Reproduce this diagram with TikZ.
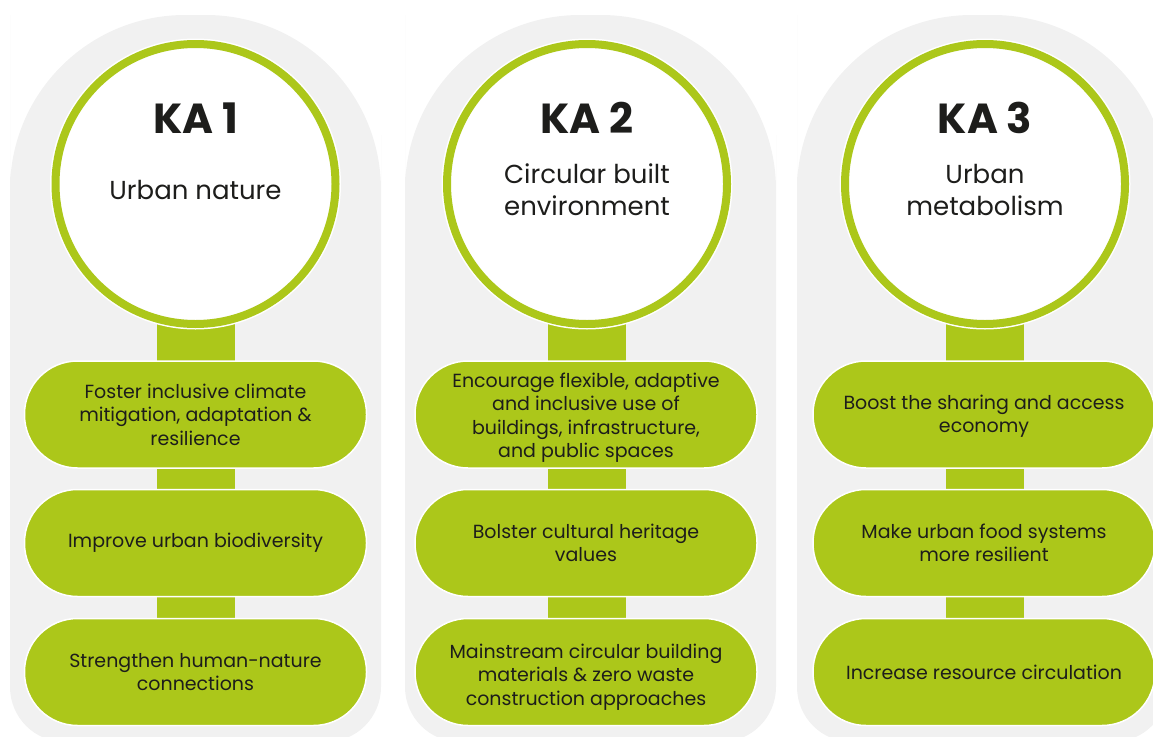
\documentclass[tikz,border=0pt]{standalone}
\usepackage{fontspec}
\setmainfont{Poppins}
\usetikzlibrary{backgrounds}
\definecolor{kagreen}{RGB}{172,199,26}
\definecolor{kagrey}{RGB}{241,241,241}
\definecolor{katext}{RGB}{29,29,27}
\begin{document}
\begin{tikzpicture}[x=1pt,y=-1pt,
  kacircle/.style={circle, draw=white, double=kagreen, double distance=8pt, line width=1.5pt, fill=white, minimum size=280pt, inner sep=0pt, outer sep=0pt},
  katitle/.style={font=\fontsize{42}{48}\selectfont\bfseries, text=katext, anchor=base, inner sep=0pt},
  kasub/.style={font=\fontsize{26}{32}\selectfont, text=katext, align=center, inner sep=0pt},
  goal/.style={rectangle, rounded corners=53pt, draw=white, line width=1.5pt, fill=kagreen, minimum width=342pt, minimum height=107pt, inner sep=0pt, align=center, font=\fontsize{19}{23.5}\selectfont, text=katext},
  link/.style={draw=kagreen, line width=78pt},
  panel/.style={fill=kagrey}]
\useasboundingbox (0,0) rectangle (1153,736);

% ---- column 1
\node[kacircle] (c1) at (195.5,184) {};
\node[katitle] (t1) at (195.5,133) {KA 1};
\node[kasub] (s1) at (195.5,189.5) {Urban nature};
\node[goal] (g11) at (195.5,414.5) {Foster inclusive climate\\mitigation, adaptation \&\\resilience};
\node[goal] (g12) at (195.5,543) {Improve urban biodiversity};
\node[goal] (g13) at (195.5,672) {Strengthen human-nature\\connections};

% ---- column 2
\node[kacircle] (c2) at (587,184) {};
\node[katitle] (t2) at (587,133) {KA 2};
\node[kasub] (s2) at (587,189.5) {Circular built\\environment};
\node[goal] (g21) at (586,414.5) {\rule{0pt}{20.5pt}Encourage flexible, adaptive\\and inclusive use of\\buildings, infrastructure,\\and public spaces};
\node[goal] (g22) at (586,543) {Bolster cultural heritage\\values};
\node[goal] (g23) at (586,672) {\rule{0pt}{24.5pt}Mainstream circular building\\materials \& zero waste\\construction approaches};

% ---- column 3
\node[kacircle] (c3) at (985,184) {};
\node[katitle] (t3) at (985,133) {KA 3};
\node[kasub] (s3) at (985,189.5) {Urban\\metabolism};
\node[goal] (g31) at (984,414.5) {\rule{0pt}{18pt}Boost the sharing and access\\economy};
\node[goal] (g32) at (984,543) {Make urban food systems\\more resilient};
\node[goal] (g33) at (984,672) {Increase resource circulation};

\begin{scope}[on background layer]
  \foreach \L in {10,405,797}{
    \path[panel] (\L+185.5,742) [rounded corners=55pt] -- (\L+371,742) -- (\L+371,190)
      [rounded corners=175pt] -- (\L+371,15) -- (\L,15) -- (\L,190)
      [rounded corners=55pt] -- (\L,742) -- cycle;
  }
  \draw[link] (c1.center) -- (g11.center);
  \draw[link] (g11.center) -- (g12.center);
  \draw[link] (g12.center) -- (g13.center);
  \draw[link] (c2.center |- c2.center) -- (c2.center |- g21.center);
  \draw[link] (c2.center |- g21.center) -- (c2.center |- g22.center);
  \draw[link] (c2.center |- g22.center) -- (c2.center |- g23.center);
  \draw[link] (c3.center) -- (c3.center |- g31.center);
  \draw[link] (c3.center |- g31.center) -- (c3.center |- g32.center);
  \draw[link] (c3.center |- g32.center) -- (c3.center |- g33.center);
\end{scope}
\end{tikzpicture}
\end{document}
